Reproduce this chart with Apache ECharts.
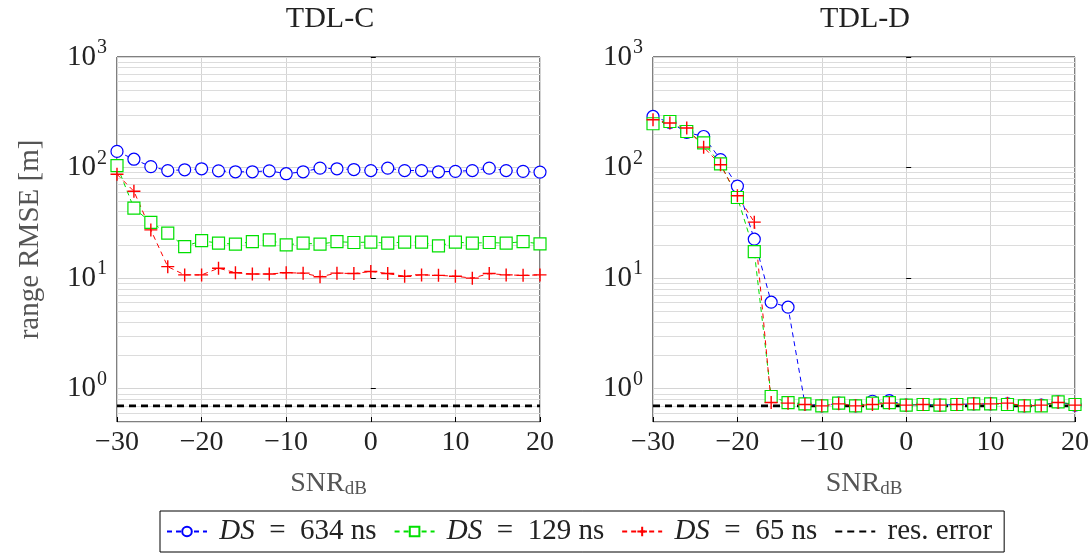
<!DOCTYPE html>
<html>
<head>
<meta charset="utf-8">
<script src="https://cdn.jsdelivr.net/npm/echarts@6/dist/echarts.min.js"></script>
<style>
html,body{margin:0;padding:0;background:#fff;}
#chart{width:1092px;height:557px;}
</style>
</head>
<body>
<div id="chart"></div>
<script>
// ---- data ----
const snr = [-30,-28,-26,-24,-22,-20,-18,-16,-14,-12,-10,-8,-6,-4,-2,0,2,4,6,8,10,12,14,16,18,20];
const tdlC_634 = [140,119,102,94,95.5,97.5,93.5,91.6,91.6,93.5,88,91.6,98.8,97.5,96,94,98.8,94,94,91.6,92.5,94,98.8,94,92.5,91];
const tdlC_129 = [104,43,32,25.5,19.3,21.8,20.7,20.3,21.4,22.2,20,20.7,20.3,21.4,21,21.2,20.7,21.2,21.2,19.6,21.2,20.7,21,20.7,21.4,20.4];
const tdlC_65  = [87,61,27.3,12.7,10.7,10.7,12.3,11.2,10.9,10.9,11.2,11.1,10.3,11.1,11,11.5,11,10.4,10.7,10.6,10.4,10.0,11,10.7,10.6,10.7];
const tdlD_634 = [290,256,208,191,118,68,22.5,6.06,5.46,0.73,0.70,0.74,0.70,0.77,0.78,0.71,0.72,0.71,0.72,0.73,0.73,0.73,0.70,0.71,0.76,0.71];
const tdlD_129 = [249,261,212,167,108,53.6,17.4,0.85,0.75,0.73,0.70,0.74,0.70,0.74,0.75,0.71,0.72,0.71,0.72,0.73,0.73,0.72,0.70,0.70,0.76,0.72];
const tdlD_65  = [271,253,228,153,106,55.6,32.1,0.75,0.74,0.72,0.70,0.73,0.70,0.72,0.74,0.71,0.72,0.71,0.72,0.73,0.73,0.74,0.70,0.71,0.75,0.71];
const resError = 0.7;
const xTicks = [-30,-20,-10,0,10,20];
const yDecades = [1,10,100,1000];
const panelTitles = ['TDL-C','TDL-D'];
const seriesNames = ['DS634','DS129','DS65','res'];

// minor grid values (2..9 per decade) within [0.5, 1000]
const minorVals = [];
[0.1,1,10,100].forEach(d => { for (let m = 2; m <= 9; m++) { const v = +(d*m).toPrecision(3); if (v >= 0.5 && v < 1000) minorVals.push(v); } });

const serif = '"Liberation Serif", "DejaVu Serif", serif';

function pts(arr){ return snr.map((x,i)=>[x,arr[i]]); }

const grids = [
  {left:117, top:57, width:423, height:365, show:true, borderColor:'#000', borderWidth:1, backgroundColor:'transparent'},
  {left:653, top:57, width:425, height:365, show:true, borderColor:'#000', borderWidth:1, backgroundColor:'transparent'}
];

function xAxisDef(i){
  return {
    type:'value', gridIndex:i, min:-30, max:20, interval:10,
    name:'{n|SNR}{s|dB}', nameLocation:'middle', nameGap:46,
    nameTextStyle:{rich:{
      n:{fontFamily:serif, fontSize:28, color:'#555'},
      s:{fontFamily:serif, fontSize:19, color:'#555', padding:[12,0,0,0]}
    }},
    axisLine:{show:false},
    axisTick:{show:true, inside:true, length:5, lineStyle:{color:'#000'}},
    axisLabel:{fontFamily:serif, fontSize:28, color:'#222', margin:7,
      formatter: v => (v<0 ? '\u2212'+Math.abs(v) : String(v))},
    splitLine:{show:true, lineStyle:{color:'#d4d4d4', width:1}}
  };
}
function yAxisDef(i){
  return {
    type:'log', logBase:10, gridIndex:i, min:0.5, max:1000, splitNumber:3,
    name: i===0 ? 'range RMSE [m]' : '', nameLocation:'middle', nameGap:72,
    nameTextStyle:{fontFamily:serif, fontSize:29, color:'#555'},
    axisLine:{show:false},
    axisTick:{show:true, inside:true, length:5, lineStyle:{color:'#000'}},
    axisLabel:{margin:10,
      formatter: v => { const e = Math.round(Math.log10(v)); if (Math.abs(Math.log10(v)-e) > 1e-6) return ''; return '{b|10}{s|'+e+'}'; },
      rich:{
        b:{fontFamily:serif, fontSize:29, color:'#222'},
        s:{fontFamily:serif, fontSize:20, color:'#222', padding:[0,0,18,1]}
      }},
    splitLine:{show:true, lineStyle:{color:'#d4d4d4', width:1}}
  };
}

const colors = ['#0000ff','#00e000','#ff0000','#000'];
const symbols = ['circle','rect','path://M0,5 L10,5 M5,0 L5,10','none'];
function dataSeries(name, arr, idx, gi){
  return {
    name, type:'line', xAxisIndex:gi, yAxisIndex:gi, data:pts(arr),
    symbol: symbols[idx], symbolSize: idx===2 ? 13 : 12,
    showSymbol:true,
    itemStyle:{color: idx===2 ? colors[idx] : '#fff', borderColor:colors[idx], borderWidth: idx===2 ? 1.4 : 1.2},
    lineStyle:{color:colors[idx], width:1, type:[5,4]},
    emphasis:{disabled:true}, animation:false, z: 4
  };
}
function resSeries(gi){
  return {
    name:'res', type:'line', xAxisIndex:gi, yAxisIndex:gi,
    data:[[-30,resError],[20,resError]], symbol:'none',
    itemStyle:{color:'#000'},
    lineStyle:{color:'#000', width:2.6, type:[7,5]}, emphasis:{disabled:true}, animation:false, z:3
  };
}
function minorSeries(gi){
  return {
    type:'line', xAxisIndex:gi, yAxisIndex:gi, data:[], silent:true, animation:false, z:1,
    markLine:{silent:true, symbol:['none','none'], label:{show:false}, z:1,
      lineStyle:{color:'#dcdcdc', width:1, type:'solid'},
      data: minorVals.map(v => ({yAxis:v})), animation:false}
  };
}

const series = [];
[0,1].forEach(gi => {
  series.push(minorSeries(gi));
  const d = gi===0 ? [tdlC_634,tdlC_129,tdlC_65] : [tdlD_634,tdlD_129,tdlD_65];
  series.push(dataSeries(seriesNames[0], d[0], 0, gi));
  series.push(dataSeries(seriesNames[1], d[1], 1, gi));
  series.push(dataSeries(seriesNames[2], d[2], 2, gi));
  series.push(resSeries(gi));
});

const legendText = {
  DS634:' {i|DS}\u2002=\u2002634 ns', DS129:' {i|DS}\u2002=\u2002129 ns', DS65:' {i|DS}\u2002=\u200265 ns', res:' res. error'
};

const option = {
  backgroundColor:'#fff',
  animation:false,
  title:[
    {text:panelTitles[0], left:330, top:4, padding:0, textAlign:'center', textStyle:{fontFamily:serif, fontSize:30, fontWeight:'normal', color:'#222'}},
    {text:panelTitles[1], left:865, top:4, padding:0, textAlign:'center', textStyle:{fontFamily:serif, fontSize:30, fontWeight:'normal', color:'#222'}}
  ],
  grid: grids,
  xAxis:[xAxisDef(0), xAxisDef(1)],
  yAxis:[yAxisDef(0), yAxisDef(1)],
  legend:{
    data:[{name:'DS634'},{name:'DS129'},{name:'DS65'},{name:'res', itemStyle:{opacity:0}}],
    left:160, top:511, itemGap:17, itemWidth:40, itemHeight:12,
    borderColor:'#000', borderWidth:1, padding:[6,12,6,6],
    selectedMode:false,
    formatter: n => legendText[n],
    textStyle:{fontFamily:serif, fontSize:29, color:'#222',
      rich:{i:{fontFamily:serif, fontSize:29, fontStyle:'italic', color:'#222'}}}
  },
  series
};

const chart = echarts.init(document.getElementById('chart'), null, {renderer:'canvas'});
chart.setOption(option);
</script>
</body>
</html>
